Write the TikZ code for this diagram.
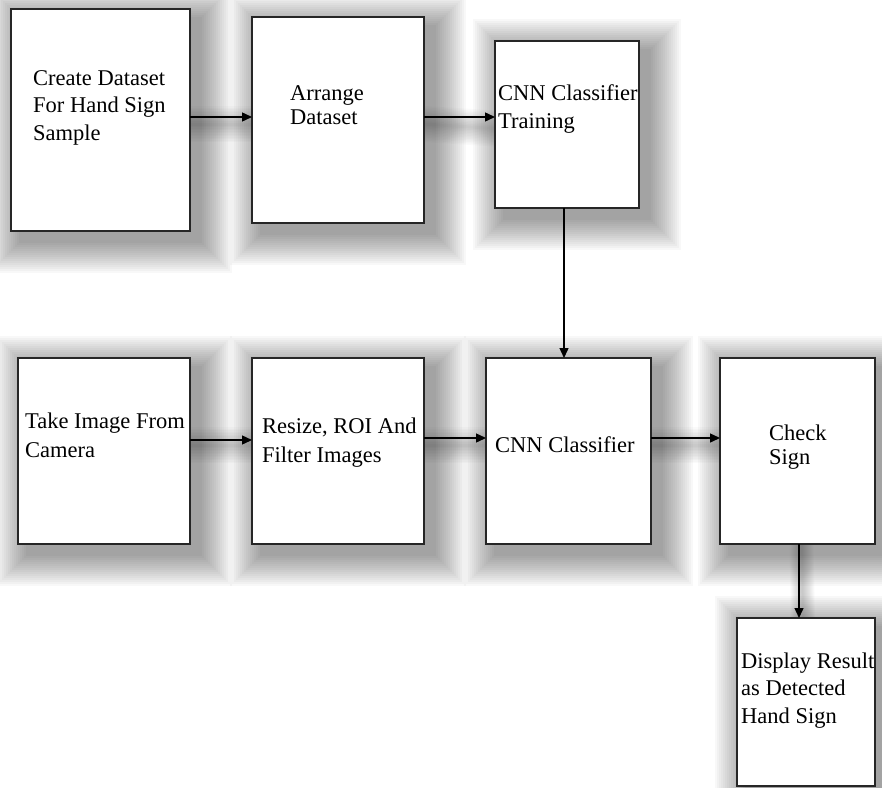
\documentclass[tikz,border=0pt]{standalone}
\usepackage{fontspec}
\setmainfont{Liberation Serif}
\usetikzlibrary{arrows.meta,backgrounds}
\begin{document}
\begin{tikzpicture}[x=1pt,y=-1pt,
  box/.style={draw=black!85,line width=1.1pt,fill=white,inner sep=0pt,outer sep=0pt},
  lbl/.style={font=\fontsize{22.5}{26}\selectfont,inner sep=0pt,anchor=base west,text=black},
  arr/.style={line width=1.4pt,-{Triangle[length=10pt,width=9pt]}},
  sh/.style={fill=black,opacity=0.026,draw=none},
  ash/.style={draw=black,opacity=0.021}]
\useasboundingbox (0,0) rectangle (882,787);
% boxes
\node[box,minimum width=179pt,minimum height=222pt] (b1) at (100.5,120) {};
\node[box,minimum width=172pt,minimum height=206pt] (b2) at (338,120) {};
\node[box,minimum width=144pt,minimum height=167pt] (b3) at (567,124.5) {};
\node[box,minimum width=172pt,minimum height=186pt] (b4) at (104,451) {};
\node[box,minimum width=172pt,minimum height=186pt] (b5) at (338,451) {};
\node[box,minimum width=165pt,minimum height=186pt] (b6) at (568.5,451) {};
\node[box,minimum width=155pt,minimum height=186pt] (b7) at (797.5,451) {};
\node[box,minimum width=138pt,minimum height=168pt] (b8) at (806,702) {};
% shadows
\begin{scope}[on background layer]
\foreach \b in {b1,b2,b3,b4,b5,b6,b7,b8}{
  \foreach \i in {1,...,16}{
    \fill[sh] ([shift={(10-2*\i,10-2*\i)}]\b.north west) rectangle ([shift={(10+2*\i,10+2*\i)}]\b.south east);
  }
}
\foreach \i in {1,...,12}{
  \draw[ash,line width=3*\i pt] ([yshift=-4pt]b1.east) -- ([yshift=-4pt]b2.west);
  \draw[ash,line width=3*\i pt] ([yshift=-4pt]b2.east) -- ([yshift=-4pt]b3.west);
  \draw[ash,line width=3*\i pt] ([yshift=6pt]b4.east) -- ([yshift=6pt]b5.west);
  \draw[ash,line width=3*\i pt] ([yshift=6pt]b5.east) -- ([yshift=6pt]b6.west);
  \draw[ash,line width=3*\i pt] ([yshift=6pt]b6.east) -- ([yshift=6pt]b7.west);
  \draw[ash,line width=2*\i pt] ([xshift=4pt]b7.south) -- ([xshift=-3pt]b8.north);
}
\end{scope}
% texts
\node[lbl] (t1a) at (33,85) {Create Dataset};
\node[lbl] (t1b) at (33,112.5) {For Hand Sign};
\node[lbl] (t1c) at (33,140) {Sample};
\node[lbl] (t2a) at (290,100) {Arrange};
\node[lbl] (t2b) at (290,124) {Dataset};
\node[lbl] (t3a) at (498,100) {CNN Classifier};
\node[lbl] (t3b) at (498,128) {Training};
\node[lbl] (t4a) at (25,428) {Take Image From};
\node[lbl] (t4b) at (25,457) {Camera};
\node[lbl] (t5a) at (262,433) {Resize, ROI And};
\node[lbl] (t5b) at (262,462) {Filter Images};
\node[lbl] (t6a) at (495,452) {CNN Classifier};
\node[lbl] (t7a) at (769,440) {Check};
\node[lbl] (t7b) at (769,464) {Sign};
\node[lbl] (t8a) at (741,668) {Display Result};
\node[lbl] (t8b) at (741,695.5) {as Detected};
\node[lbl] (t8c) at (741,723) {Hand Sign};
% connectors
\draw[arr] ([yshift=3pt]b1.east) -- ([yshift=3pt]b2.west);
\draw[arr] ([yshift=3pt]b2.east) -- ([yshift=7.5pt]b3.west);
\draw[arr] ([xshift=-3pt]b3.south) -- ([xshift=-4.5pt]b6.north);
\draw[arr] ([yshift=11pt]b4.east) -- ([yshift=11pt]b5.west);
\draw[arr] ([yshift=13pt]b5.east) -- ([yshift=13pt]b6.west);
\draw[arr] ([yshift=13pt]b6.east) -- ([yshift=13pt]b7.west);
\draw[arr] ([xshift=1.5pt]b7.south) -- ([xshift=-7pt]b8.north);
\end{tikzpicture}
\end{document}
